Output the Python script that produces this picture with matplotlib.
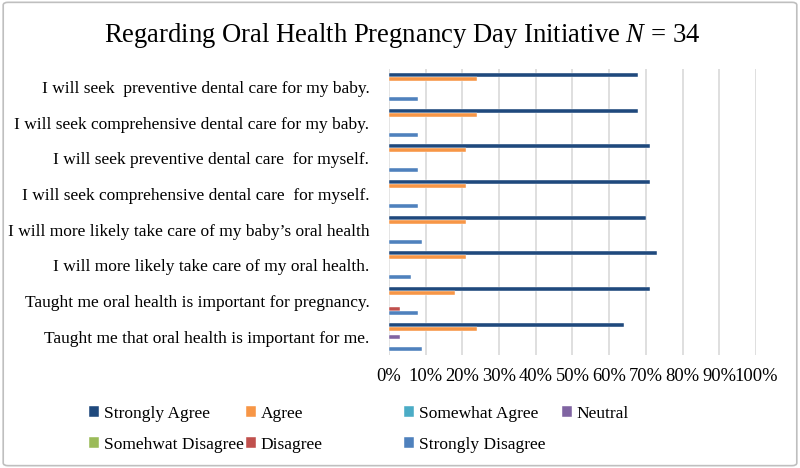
import numpy as np
import matplotlib.pyplot as plt
from matplotlib.patches import FancyBboxPatch, Patch
from matplotlib.ticker import PercentFormatter

plt.rcParams['font.family'] = ['Liberation Serif', 'DejaVu Serif']
plt.rcParams['mathtext.fontset'] = 'custom'
plt.rcParams['mathtext.rm'] = 'Liberation Serif'
plt.rcParams['mathtext.it'] = 'Liberation Serif:italic'

# categories, top to bottom
labels = ['I will seek  preventive dental care for my baby.',
          'I will seek comprehensive dental care for my baby.',
          'I will seek preventive dental care  for myself.',
          'I will seek comprehensive dental care  for myself.',
          'I will more likely take care of my baby\u2019s oral health',
          'I will more likely take care of my oral health.',
          'Taught me oral health is important for pregnancy.',
          'Taught me that oral health is important for me.']

series = ['Strongly Agree', 'Agree', 'Somewhat Agree', 'Neutral',
          'Somehwat Disagree', 'Disagree', 'Strongly Disagree']
colors = ['#1F497D', '#F79646', '#4BACC6', '#8064A2',
          '#9BBB59', '#C0504D', '#4F81BD']

# percentages per series, one value per category
strongly_agree = [68, 68, 71, 71, 70, 73, 71, 64]
agree = [24, 24, 21, 21, 21, 21, 18, 24]
somewhat_agree = [0, 0, 0, 0, 0, 0, 0, 0]
neutral = [0, 0, 0, 0, 0, 0, 0, 3]
somewhat_disagree = [0, 0, 0, 0, 0, 0, 0, 0]
disagree = [0, 0, 0, 0, 0, 0, 3, 0]
strongly_disagree = [8, 8, 8, 8, 9, 6, 8, 9]

values = [strongly_agree, agree, somewhat_agree, neutral,
          somewhat_disagree, disagree, strongly_disagree]

fig = plt.figure(figsize=(8, 4.68), dpi=100)
fig.patches.append(FancyBboxPatch((0.004, 0.005), 0.992, 0.99,
                                  boxstyle='round,pad=0,rounding_size=0.006',
                                  transform=fig.transFigure, fill=False,
                                  edgecolor='#BFBFBF', linewidth=1.2))

ax = fig.add_axes([0.486, 0.2425, 0.459, 0.61])

y = np.arange(len(labels))
h = 0.112
handles = []
for i, (name, vals) in enumerate(zip(series, values)):
    b = ax.barh(y + (i - 3) * h, vals, height=h, color=colors[i], label=name,
                edgecolor='white', linewidth=0.3, zorder=3)
    handles.append(b)

ax.set_xlim(0, 100)
ax.set_ylim(len(labels) - 0.5, -0.5)
ax.set_xticks(np.arange(0, 101, 10))
ax.xaxis.set_major_formatter(PercentFormatter(decimals=0))
ax.set_yticks(y)
ax.set_yticklabels(labels, fontsize=12.5)
ax.tick_params(axis='x', labelsize=13.3, length=0, pad=10)
ax.tick_params(axis='y', length=0, pad=14)
ax.grid(axis='x', color='#D9D9D9', linewidth=1.2, zorder=0)
for s in ax.spines.values():
    s.set_visible(False)

fig.text(0.503, 0.925, 'Regarding Oral Health Pregnancy Day Initiative $\\mathit{N}$ = 34',
         ha='center', va='center', fontsize=19.2)

# legend laid out in fixed slots, row by row like the original
blank = Patch(facecolor='none', edgecolor='none')
slots = [(0, 4), (1, 5), (2, 6), (3, None)]
slot_x = [89, 246, 404, 562]
for (a, b), sx in zip(slots, slot_x):
    hs = [handles[a], handles[b] if b is not None else blank]
    ls = [series[a], series[b] if b is not None else '']
    fig.legend(hs, ls, loc='center left', bbox_to_anchor=(sx / 800, 0.0825),
               frameon=False, fontsize=12.5, handlelength=0.55,
               handleheight=0.6, handletextpad=0.3, labelspacing=0.85,
               borderpad=0, borderaxespad=0)

fig.savefig('out.png', dpi=100)
